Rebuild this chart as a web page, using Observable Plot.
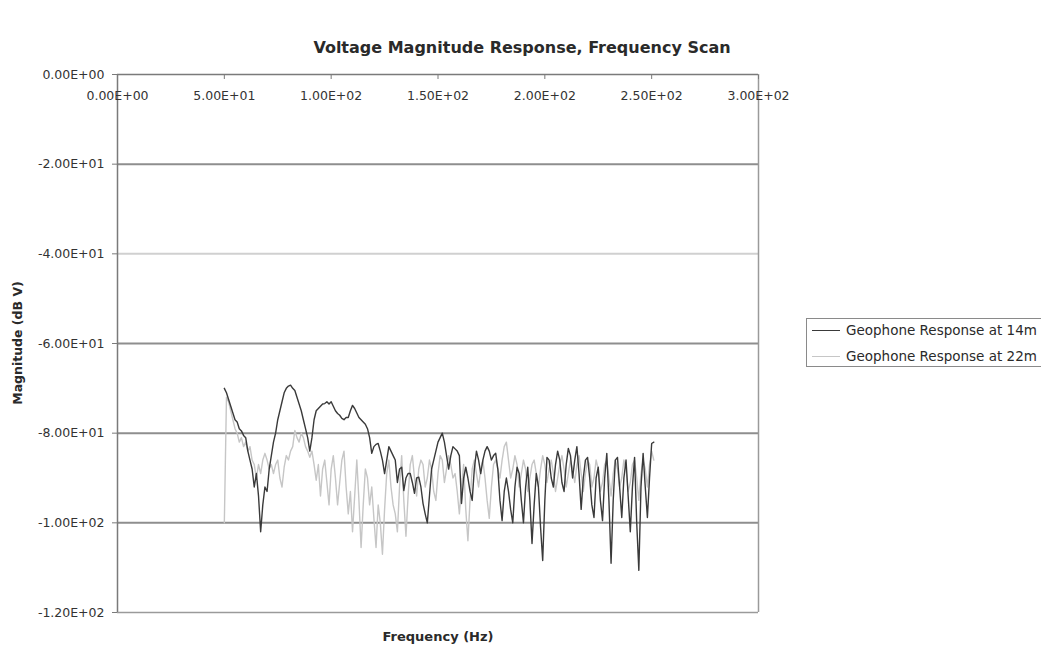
<!DOCTYPE html>
<html>
<head>
<meta charset="utf-8">
<script src="https://cdn.jsdelivr.net/npm/d3@7"></script>
<script src="https://cdn.jsdelivr.net/npm/@observablehq/plot@0.6"></script>
<style>
  html, body { margin: 0; padding: 0; background: #fff; }
  #wrap { position: relative; width: 1041px; height: 648px; overflow: hidden; font-family: "DejaVu Sans", "Liberation Sans", Arial, sans-serif; color: #2a2a2a; }
  #chart { position: absolute; left: 0; top: 0; }
  .title { position: absolute; left: 522px; top: 47px; transform: translate(-50%, -50%); font-weight: bold; font-size: 16px; white-space: nowrap; }
  .xlabel { position: absolute; left: 438px; top: 636px; transform: translate(-50%, -50%); font-weight: bold; font-size: 13px; white-space: nowrap; }
  .ylabel { position: absolute; left: 17px; top: 343px; transform: translate(-50%, -50%) rotate(-90deg); font-weight: bold; font-size: 12.5px; white-space: nowrap; }
  .legend { position: absolute; left: 806px; top: 318px; width: 250px; height: 49px; border: 1px solid #8a8a8a; box-sizing: border-box; font-size: 13.5px; }
  .legend .row { position: absolute; left: 5px; display: flex; align-items: center; white-space: nowrap; }
  .legend .sw { width: 28px; height: 0; border-top: 1.5px solid; margin-right: 6px; }
</style>
</head>
<body>
<div id="wrap">
  <div id="chart"></div>
  <div class="title">Voltage Magnitude Response, Frequency Scan</div>
  <div class="xlabel">Frequency (Hz)</div>
  <div class="ylabel">Magnitude (dB V)</div>
  <div class="legend" id="legend"></div>
</div>
<script>
// ---- Data ----
const seriesNames = ["Geophone Response at 14m", "Geophone Response at 22m"];

// sampled frequency grid (Hz), 1 Hz steps from 50 to 251
const freq = d3.range(50, 252, 1);

// Geophone Response at 14m (dB V)
const mag14m = [
  -70, -71, -72.5, -74, -75.5, -77, -77.5, -79, -79.5, -80.5,      // 50-59
  -81, -84, -86, -88, -92, -89, -94, -102, -96, -92,                // 60-69
  -93, -88, -85, -82, -80, -77, -75, -73, -71, -70,                 // 70-79
  -69.5, -69.3, -70, -70.5, -72, -73.5, -75, -77, -79, -81,         // 80-89
  -84, -81, -77, -75, -74.5, -74, -73.5, -73.4, -73, -73.5,         // 90-99
  -73, -74, -75, -75.6, -76, -76.7, -77, -76.5, -76.5, -75,         // 100-109
  -73.8, -74.5, -75.5, -76.5, -77, -77.5, -78, -79, -81, -84.5,     // 110-119
  -83, -82.5, -82.3, -84, -86, -89, -86, -83, -84, -85,             // 120-129
  -86, -91, -88, -87.6, -92.8, -90, -89, -89, -91, -93.4,           // 130-139
  -90, -89.8, -92, -95.7, -98, -100, -94, -88, -86, -84,            // 140-149
  -82, -81, -80, -82, -85, -88, -85, -83, -83.5, -84,               // 150-159
  -85, -95.7, -90, -87.6, -90, -93, -95, -88, -84, -86,             // 160-169
  -89, -86, -84, -83, -84, -86, -85, -84.5, -88, -95,               // 170-179
  -99.5, -93, -90, -93, -97, -100, -92, -87.6, -89, -95,            // 180-189
  -100, -92, -87.6, -95, -104.6, -96, -89, -92, -101, -108.4,       // 190-199
  -95, -85.4, -86, -90, -92, -87, -84, -86, -91, -93,               // 200-209
  -87, -83.4, -85, -90, -86, -83, -89, -97, -90, -86,               // 210-219
  -85.4, -90, -96, -98.8, -90, -87.6, -95, -99.5, -90, -84.5,       // 220-229
  -95, -109, -95, -86, -85.4, -92, -98.8, -90, -86, -94,            // 230-239
  -102, -92, -85.4, -100, -110.6, -92, -84.5, -92, -98.8, -90,      // 240-249
  -82.3, -82                                                        // 250-251
];

// Geophone Response at 22m (dB V)
const mag22m = [
  -100, -72, -73, -75, -77, -79, -80, -82, -81, -83,                // 50-59
  -82, -84, -83, -86, -87, -90, -87, -89, -86, -84.5,               // 60-69
  -86, -88, -87, -89, -87, -86, -90, -92, -87.6, -85,               // 70-79
  -86, -84, -83, -79.4, -81, -82, -80, -81, -83, -84,               // 80-89
  -85.4, -84, -87, -90.5, -87, -94, -88, -86, -91, -96,             // 90-99
  -88, -85, -90, -96, -91, -86, -84, -92, -98, -93,                 // 100-109
  -102, -94, -86, -95, -105.5, -96, -88, -90, -96, -92,             // 110-119
  -99, -105.5, -96, -100, -107, -97, -89, -86, -92, -96,            // 120-129
  -98, -102, -92, -85, -95, -103, -94, -87, -85, -90,               // 130-139
  -94, -88, -86, -87, -92, -90, -86, -88, -93, -95,                 // 140-149
  -89, -85, -86, -91, -88, -85, -87, -90, -89, -93,                 // 150-159
  -98, -92, -87, -97, -104, -95, -88, -86, -89, -92,                // 160-169
  -88, -86, -90, -95, -99, -92, -87, -86, -88, -90,                 // 170-179
  -86, -83, -82, -86, -90, -88, -85, -87, -92, -89,                 // 180-189
  -86, -88, -93, -90, -87, -86, -89, -92, -88, -85,                 // 190-199
  -87, -91, -88, -86, -89, -93, -90, -87, -85, -88,                 // 200-209
  -92, -89, -86, -88, -91, -87, -85, -89, -93, -89,                 // 210-219
  -86, -87, -92, -90, -86, -88, -93, -91, -87, -86,                 // 220-229
  -90, -94, -89, -86, -88, -92, -90, -86, -88, -93,                 // 230-239
  -91, -87, -86, -90, -95, -89, -86, -88, -92, -87,                 // 240-249
  -84, -86                                                          // 250-251
];

// axis ticks and their labels
const xTicks = [0, 50, 100, 150, 200, 250, 300];
const xTickLabels = ["0.00E+00", "5.00E+01", "1.00E+02", "1.50E+02", "2.00E+02", "2.50E+02", "3.00E+02"];
const yTicks = [0, -20, -40, -60, -80, -100, -120];
const yTickLabels = ["0.00E+00", "-2.00E+01", "-4.00E+01", "-6.00E+01", "-8.00E+01", "-1.00E+02", "-1.20E+02"];
const gridY = [-20, -40, -60, -80, -100];

// ---- Build ----
const colors = ["#3a3a3a", "#c6c6c6"];
const rows14 = freq.map((f, i) => ({f, v: mag14m[i]}));
const rows22 = freq.map((f, i) => ({f, v: mag22m[i]}));
const xLab = new Map(xTicks.map((t, i) => [t, xTickLabels[i]]));
const yLab = new Map(yTicks.map((t, i) => [t, yTickLabels[i]]));

const chart = Plot.plot({
  width: 1041,
  height: 648,
  marginTop: 74,
  marginLeft: 117,
  marginRight: 283,
  marginBottom: 36,
  style: {fontFamily: "DejaVu Sans, Liberation Sans, Arial, sans-serif", fontSize: "12.5px", color: "#333", background: "white"},
  x: {domain: [0, 300]},
  y: {domain: [-120, 0]},
  marks: [
    Plot.ruleY(gridY, {stroke: d => d === -40 ? "#d0d0d0" : "#8e8e8e", strokeWidth: 2}),
    Plot.ruleX([300], {stroke: "#9a9a9a", strokeWidth: 1.5}),
    Plot.ruleY([-120], {stroke: "#9a9a9a", strokeWidth: 1.5}),
    Plot.line(rows22, {x: "f", y: "v", stroke: colors[1], strokeWidth: 1.4}),
    Plot.line(rows14, {x: "f", y: "v", stroke: colors[0], strokeWidth: 1.4}),
    Plot.ruleY([0], {stroke: "#7a7a7a", strokeWidth: 1.5}),
    Plot.ruleX([0], {stroke: "#7a7a7a", strokeWidth: 1.5}),
    Plot.axisY({ticks: yTicks, tickFormat: d => yLab.get(d), tickSize: 5, tickPadding: 8, label: null, stroke: "#7a7a7a"}),
    Plot.axisX({anchor: "top", ticks: xTicks, tickFormat: d => xLab.get(d), tickSize: -4, tickPadding: -21, label: null, stroke: "#7a7a7a"})
  ]
});
document.getElementById("chart").appendChild(chart);

// legend
const legend = document.getElementById("legend");
seriesNames.forEach((name, i) => {
  const row = document.createElement("div");
  row.className = "row";
  row.style.top = (i === 0 ? 3 : 29) + "px";
  const sw = document.createElement("div");
  sw.className = "sw";
  sw.style.borderTopColor = colors[i];
  const tx = document.createElement("span");
  tx.textContent = name;
  row.appendChild(sw);
  row.appendChild(tx);
  legend.appendChild(row);
});
</script>
</body>
</html>
